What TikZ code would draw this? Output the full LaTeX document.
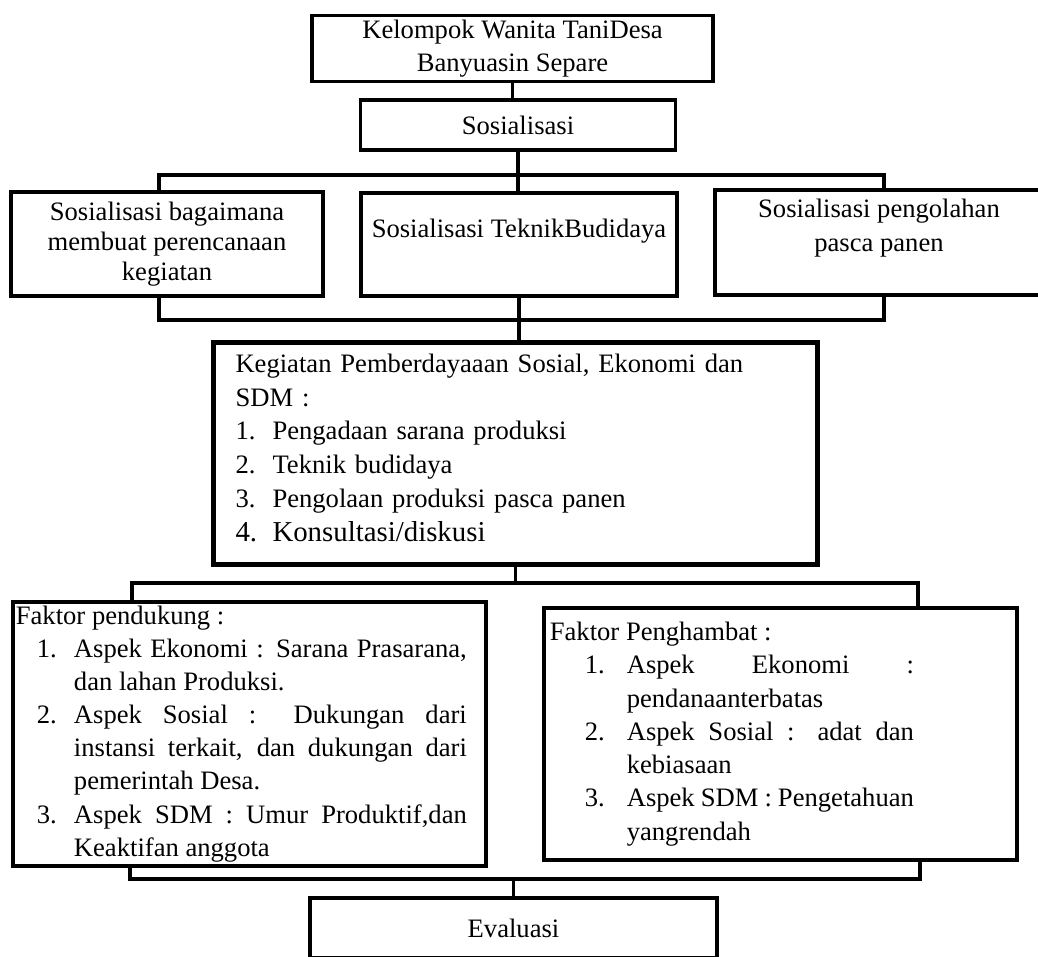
\documentclass[tikz,border=0pt]{standalone}
\usepackage{fontspec}
\setmainfont{Liberation Serif}
\usepackage{xcolor}
\newcommand{\pxu}{0.451pt}
\newcommand{\itemno}[1]{\makebox[16.7pt][l]{#1}}
\newcommand{\faktoritem}[3]{\par\leftskip=#1\relax\noindent\llap{\makebox[#2][l]{#3}}}

\begin{document}
\begin{tikzpicture}[x=\pxu,y=-\pxu,
  box/.style={draw,line width=1.5pt,inner sep=2pt,font=\fontsize{12pt}{14.4pt}\selectfont},
  conn/.style={line width=1.4pt}]
\useasboundingbox (0,0) rectangle (1038,956);
\clip (0,0) rectangle (1038,956);
\node[box,minimum width=401*\pxu,minimum height=65*\pxu,align=center,font=\fontsize{12pt}{15pt}\selectfont] (kwt) at (512.5,48.5) {Kelompok Wanita TaniDesa\\Banyuasin Separe};
\node[box,minimum width=315*\pxu,minimum height=50*\pxu] (sos) at (518,125) {Sosialisasi};
\node[box,minimum width=312*\pxu,minimum height=104*\pxu,align=center,font=\fontsize{12pt}{13.5pt}\selectfont] (sos1) at (167,244) {Sosialisasi bagaimana\\membuat perencanaan\\kegiatan};
\node[box,minimum width=316*\pxu,minimum height=103*\pxu,align=center,font=\fontsize{12pt}{15pt}\selectfont] (sos2) at (519,244.5) {Sosialisasi TeknikBudidaya\\ \mbox{}};
\node[box,minimum width=328*\pxu,minimum height=105*\pxu,align=center,font=\fontsize{12pt}{15.3pt}\selectfont] (sos3) at (879,242.5) {Sosialisasi pengolahan\\pasca panen\\ \mbox{}};
\node[box,line width=2.3pt,anchor=north west,text width=252.6pt,inner xsep=9.9pt,minimum height=222*\pxu,align=left,font=\fontsize{12pt}{15.3pt}\selectfont] (keg) at (211,340) {Kegiatan Pemberdayaaan Sosial, Ekonomi dan\\SDM :\\\itemno{1.}Pengadaan sarana produksi\\\itemno{2.}Teknik budidaya\\\itemno{3.}Pengolaan produksi pasca panen\\{\fontsize{13pt}{15.3pt}\selectfont\itemno{4.}Konsultasi/diskusi}\\[-10pt]\mbox{}};
\node[box,line width=1.7pt,anchor=north west,text width=210.6pt,inner xsep=1.35pt,minimum height=259*\pxu,align=justify,font=\fontsize{12pt}{14.9pt}\selectfont] (pend) at (11,600) {\rightskip=7.2pt\parskip=0pt\noindent Faktor pendukung :
\faktoritem{26.2pt}{16.7pt}{1.}Aspek Ekonomi : Sarana Prasarana,\linebreak dan lahan Produksi.
\faktoritem{26.2pt}{16.7pt}{2.}Aspek Sosial : Dukungan dari\linebreak instansi terkait, dan dukungan dari\linebreak pemerintah Desa.
\faktoritem{26.2pt}{16.7pt}{3.}Aspek SDM : Umur Produktif,dan\linebreak Keaktifan anggota\par};
\node[box,line width=1.7pt,anchor=north west,text width=207.9pt,inner xsep=2.7pt,minimum height=252*\pxu,align=justify,font=\fontsize{12pt}{15pt}\selectfont] (ham) at (542,606) {\rightskip=43.7pt\parskip=0pt\noindent Faktor Penghambat :
\faktoritem{34.7pt}{18.9pt}{1.}Aspek Ekonomi :\linebreak pendanaanterbatas
\faktoritem{34.7pt}{18.9pt}{2.}Aspek Sosial : adat dan\linebreak kebiasaan
\faktoritem{34.7pt}{18.9pt}{3.}Aspek SDM : Pengetahuan\linebreak yangrendah\par};
\node[box,minimum width=407*\pxu,minimum height=60*\pxu] (eval) at (513.5,928) {Evaluasi};
% bus points
\coordinate (b1l) at (159,175); \coordinate (b1r) at (884,175);
\coordinate (b2l) at (159,320); \coordinate (b2r) at (884,320);
\coordinate (b3l) at (132,583); \coordinate (b3r) at (918,583);
\coordinate (b4l) at (130,879); \coordinate (b4r) at (920,879);
\draw[conn] (kwt.south) -- (kwt.south |- sos.north);
\draw[conn] (sos.south) -- (sos.south |- sos2.north);
\draw[conn] (b1l |- sos1.north) -- (b1l) -- (b1r) -- (b1r |- sos3.north);
\draw[conn] (b2l |- sos1.south) -- (b2l) -- (b2r) -- (b2r |- sos3.south);
\draw[conn] (sos2.south) -- (sos2.south |- keg.north);
\draw[conn] (keg.south) -- (keg.south |- b3l);
\draw[conn,line width=2pt] (b3l |- pend.north) -- (b3l) -- (b3r) -- (b3r |- ham.north);
\draw[conn,line width=1.8pt] (b4l |- pend.south) -- (b4l) -- (b4r) -- (b4r |- ham.south);
\draw[conn] (eval.north) -- (eval.north |- b4l);
\end{tikzpicture}
\end{document}
